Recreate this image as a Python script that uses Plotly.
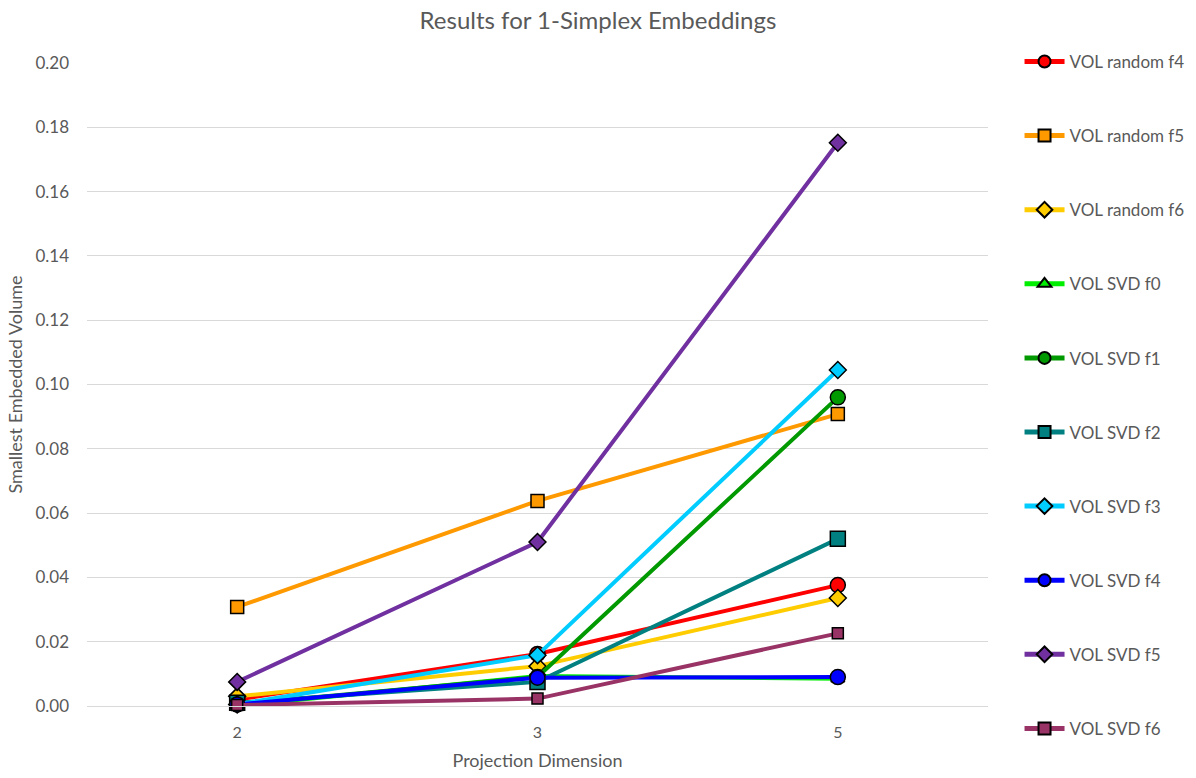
import plotly.graph_objects as go

# Projection dimensions (categorical x axis)
dims = ["2", "3", "5"]

series_names = [
    "VOL random f4", "VOL random f5", "VOL random f6",
    "VOL SVD f0", "VOL SVD f1", "VOL SVD f2", "VOL SVD f3",
    "VOL SVD f4", "VOL SVD f5", "VOL SVD f6",
]

vol_random_f4 = [0.0020, 0.0162, 0.0376]
vol_random_f5 = [0.0308, 0.0638, 0.0908]
vol_random_f6 = [0.0030, 0.0124, 0.0336]
vol_svd_f0 = [0.0000, 0.0093, 0.0085]
vol_svd_f1 = [0.0005, 0.0090, 0.0960]
vol_svd_f2 = [0.0010, 0.0075, 0.0520]
vol_svd_f3 = [0.0005, 0.0158, 0.1045]
vol_svd_f4 = [0.0005, 0.0088, 0.0090]
vol_svd_f5 = [0.0075, 0.0510, 0.1752]
vol_svd_f6 = [0.0003, 0.0023, 0.0226]

values = [
    vol_random_f4, vol_random_f5, vol_random_f6,
    vol_svd_f0, vol_svd_f1, vol_svd_f2, vol_svd_f3,
    vol_svd_f4, vol_svd_f5, vol_svd_f6,
]

colors = ["#FF0000", "#FF9900", "#FFCC00", "#00EE00", "#009900",
          "#008080", "#00CCFF", "#0000FF", "#7030A0", "#993366"]
symbols = ["circle", "square", "diamond", "triangle-up", "circle",
           "square", "diamond", "circle", "diamond", "square"]
sizes = [15, 13, 13, 12, 15, 15, 13, 15, 13, 11]

fig = go.Figure()
for i, (name, vals) in enumerate(zip(series_names, values)):
    fig.add_trace(go.Scatter(
        x=dims, y=vals, name=name, mode="lines+markers",
        legendgroup=name,
        line=dict(color=colors[i], width=4),
        marker=dict(symbol=symbols[i], size=sizes[i], color=colors[i],
                    line=dict(color="black", width=1.5)),
        cliponaxis=False,
    ))

font_color = "#595959"
fig.update_layout(
    width=1196, height=778,
    margin=dict(l=87, r=208, t=63, b=72, autoexpand=False),
    paper_bgcolor="white", plot_bgcolor="white",
    font=dict(family="Lato, Carlito, sans-serif", color=font_color, size=16),
    title=dict(text="Results for 1-Simplex Embeddings", x=0.5, xanchor="center",
               y=0.974, yanchor="middle", font=dict(size=24, color=font_color)),
    xaxis=dict(type="category", range=[-0.5, 2.5], automargin=False,
               title=dict(text="Projection Dimension", standoff=14,
                          font=dict(size=18)),
               showgrid=False, showline=True, linecolor="#D9D9D9", linewidth=1,
               ticks="", tickfont=dict(size=16), zeroline=False,
               ticklabelstandoff=12),
    yaxis=dict(title=dict(text="Smallest Embedded Volume", standoff=8,
                          font=dict(size=18)),
               automargin=False,
               range=[0, 0.2], dtick=0.02, tickformat=".2f",
               showgrid=True, gridcolor="#D9D9D9", gridwidth=1,
               zeroline=False, tickfont=dict(size=17), ticks="",
               ticklabelstandoff=17),
    legend=dict(x=1.035, xanchor="left", y=1.0296, yanchor="top",
                tracegroupgap=49, font=dict(size=17, color=font_color),
                itemwidth=40, itemsizing="constant", maxheight=1.0,
                bgcolor="rgba(0,0,0,0)"),
    showlegend=True,
)

fig.write_html("out.html")
